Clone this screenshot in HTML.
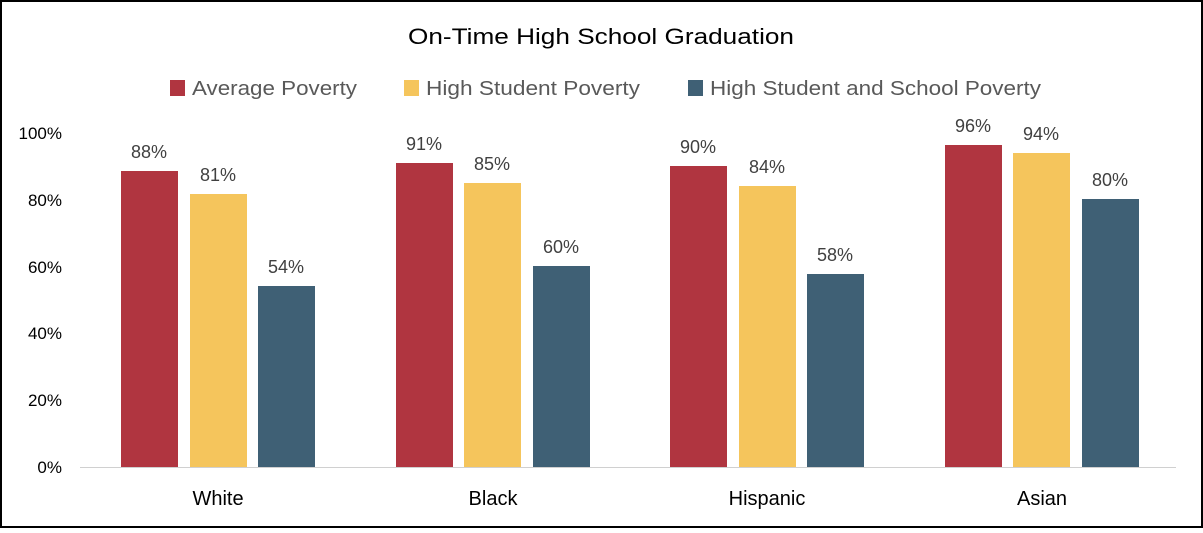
<!DOCTYPE html>
<html><head><style>
body{margin:0;background:#fff}
svg text{font-family:"Liberation Sans",sans-serif}
</style></head><body>
<svg width="1203" height="528" xmlns="http://www.w3.org/2000/svg">
<rect x="1" y="1" width="1201" height="526" fill="#fff" stroke="#000" stroke-width="2"/>
<text x="408" y="44" font-size="22" textLength="386" lengthAdjust="spacingAndGlyphs" fill="#000">On-Time High School Graduation</text>
<g font-size="20" fill="#595959">
<rect x="170" y="80" width="15" height="16" fill="#B03540"/><text x="192" y="95" textLength="165" lengthAdjust="spacingAndGlyphs">Average Poverty</text>
<rect x="404" y="80" width="15" height="16" fill="#F5C55C"/><text x="426" y="95" textLength="214" lengthAdjust="spacingAndGlyphs">High Student Poverty</text>
<rect x="688" y="80" width="15" height="16" fill="#3F6075"/><text x="710" y="95" textLength="331" lengthAdjust="spacingAndGlyphs">High Student and School Poverty</text>
</g>
<g font-size="17" fill="#000" text-anchor="end">
<text x="62" y="139">100%</text><text x="62" y="206">80%</text><text x="62" y="273">60%</text>
<text x="62" y="339">40%</text><text x="62" y="406">20%</text><text x="62" y="473">0%</text>
</g>
<line x1="80" y1="467.5" x2="1176" y2="467.5" stroke="#d0d0d0" stroke-width="1"/>
<g>
<rect x="121" y="171" width="57" height="296" fill="#B03540"/>
<rect x="190" y="194" width="57" height="273" fill="#F5C55C"/>
<rect x="258" y="286" width="57" height="181" fill="#3F6075"/>
<rect x="396" y="163" width="57" height="304" fill="#B03540"/>
<rect x="464" y="183" width="57" height="284" fill="#F5C55C"/>
<rect x="533" y="266" width="57" height="201" fill="#3F6075"/>
<rect x="670" y="166" width="57" height="301" fill="#B03540"/>
<rect x="739" y="186" width="57" height="281" fill="#F5C55C"/>
<rect x="807" y="274" width="57" height="193" fill="#3F6075"/>
<rect x="945" y="145" width="57" height="322" fill="#B03540"/>
<rect x="1013" y="153" width="57" height="314" fill="#F5C55C"/>
<rect x="1082" y="199" width="57" height="268" fill="#3F6075"/>
</g>
<g font-size="18" fill="#404040" text-anchor="middle">
<text x="149" y="158">88%</text><text x="218" y="181">81%</text><text x="286" y="273">54%</text>
<text x="424" y="150">91%</text><text x="492" y="170">85%</text><text x="561" y="253">60%</text>
<text x="698" y="153">90%</text><text x="767" y="173">84%</text><text x="835" y="261">58%</text>
<text x="973" y="132">96%</text><text x="1041" y="140">94%</text><text x="1110" y="186">80%</text>
</g>
<g font-size="20" fill="#000" text-anchor="middle">
<text x="218" y="505">White</text><text x="493" y="505">Black</text>
<text x="767" y="505">Hispanic</text><text x="1042" y="505">Asian</text>
</g>
</svg>
</body></html>
